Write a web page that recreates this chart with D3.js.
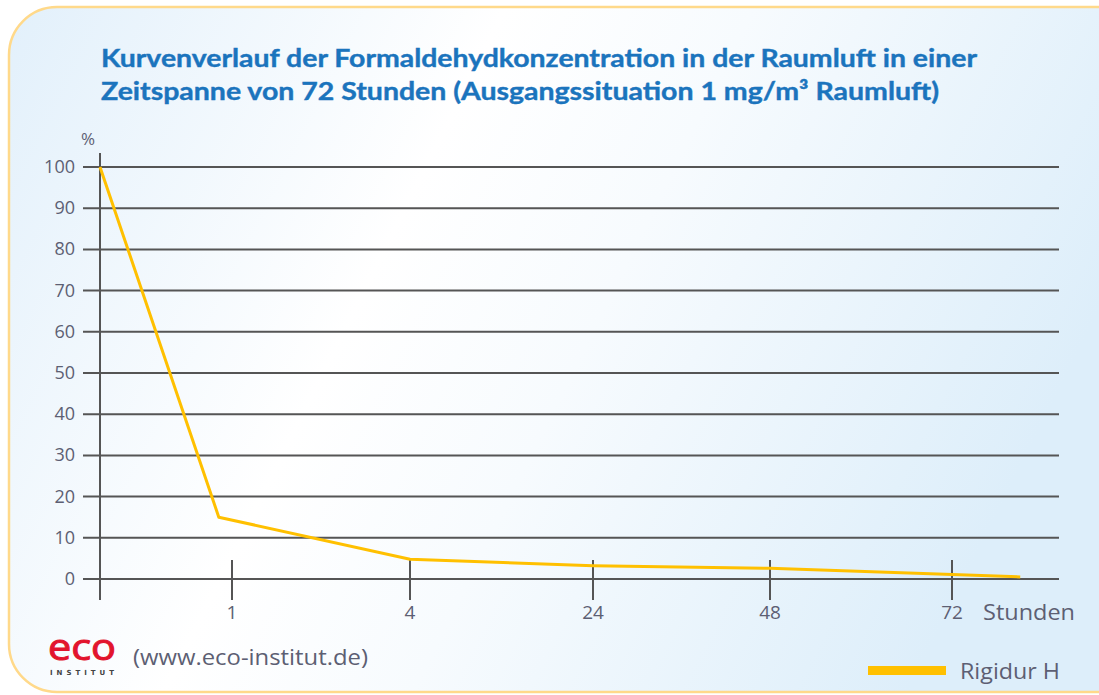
<!DOCTYPE html>
<html><head><meta charset="utf-8">
<script src="https://cdn.jsdelivr.net/npm/d3@7"></script>
<style>body{margin:0;background:#fff;}svg{display:block;}</style>
</head><body>
<script>
const titleLines = ["Kurvenverlauf der Formaldehydkonzentration in der Raumluft in einer",
                    "Zeitspanne von 72 Stunden (Ausgangssituation 1 mg/m³ Raumluft)"];
const hourTicks = [1, 4, 24, 48, 72];
const hourTickLabels = ["1", "4", "24", "48", "72"];
const yTicks = [0, 10, 20, 30, 40, 50, 60, 70, 80, 90, 100];
const seriesName = "Rigidur H";
const seriesHours = [0, 0.9, 4, 24, 48, 81];
const seriesValues = [100, 15, 4.8, 3.2, 2.6, 0.5];

const W = 1099, H = 695;
const svg = d3.select("body").append("svg").attr("width", W).attr("height", H);
const defs = svg.append("defs");
const g1 = defs.append("linearGradient").attr("id","bg").attr("x1","0").attr("y1","0").attr("x2","1").attr("y2","0.3");
g1.append("stop").attr("offset","0").attr("stop-color","#e2f0fb");
g1.append("stop").attr("offset","0.4").attr("stop-color","#ffffff");
g1.append("stop").attr("offset","0.6").attr("stop-color","#f7fbfe");
g1.append("stop").attr("offset","1").attr("stop-color","#ddeefa");

svg.append("rect").attr("x",9).attr("y",7).attr("width",W+40).attr("height",685)
  .attr("rx",48).attr("ry",48).attr("fill","url(#bg)").attr("stroke","#ffd98a").attr("stroke-width",2.5);

// title
const title = svg.append("g");
titleLines.forEach((t,i)=>{
  title.append("text").attr("x",101).attr("y",67+i*33)
    .attr("font-family","Lato, 'Open Sans', sans-serif").attr("font-weight","bold")
    .attr("font-size",24).attr("fill","#1b74bd")
    .attr("stroke","#1b74bd").attr("stroke-width",0.4)
    .attr("textLength", i===0?876:838).attr("lengthAdjust","spacingAndGlyphs")
    .text(t);
});

// scales
const y = d3.scaleLinear().domain([0,100]).range([579,167]);
const x = d3.scaleLinear().domain([0,1,4,24,48,72]).range([100,232,410,593,770,952]);
const xEnd = 1059;
const labelColor = "#5d5f73";
const font = "'Open Sans', 'Noto Sans', sans-serif";

// grid lines
svg.append("g").selectAll("line").data(yTicks).join("line")
  .attr("x1",83).attr("x2",xEnd).attr("y1",d=>y(d)).attr("y2",d=>y(d))
  .attr("stroke","#555").attr("stroke-width",2);
svg.append("g").selectAll("text").data(yTicks).join("text")
  .attr("x",75).attr("y",d=>y(d)+6).attr("text-anchor","end")
  .attr("font-family",font).attr("font-size",18).attr("fill",labelColor)
  .text(d=>d);
svg.append("text").attr("x",81).attr("y",145).attr("font-family",font).attr("font-size",17)
  .attr("fill",labelColor).text("%");

// y axis line
svg.append("line").attr("x1",x(0)).attr("x2",x(0)).attr("y1",153).attr("y2",600)
  .attr("stroke","#555").attr("stroke-width",2);

// x ticks
svg.append("g").selectAll("line").data(hourTicks).join("line")
  .attr("x1",d=>x(d)).attr("x2",d=>x(d)).attr("y1",560).attr("y2",600)
  .attr("stroke","#555").attr("stroke-width",2);
svg.append("g").selectAll("text").data(hourTicks).join("text")
  .attr("x",d=>x(d)).attr("y",619).attr("text-anchor","middle")
  .attr("font-family",font).attr("font-size",19).attr("fill",labelColor)
  .text((d,i)=>hourTickLabels[i]);
svg.append("text").attr("x",983).attr("y",620).attr("font-family",font).attr("font-size",21)
  .attr("fill",labelColor).attr("textLength",92).attr("lengthAdjust","spacingAndGlyphs").text("Stunden");

// series line
const pts = seriesHours.map((h,i)=>[h, seriesValues[i]]);
svg.append("path").datum(pts)
  .attr("d", d3.line().x(d=>x(d[0])).y(d=>y(d[1])))
  .attr("fill","none").attr("stroke","#ffc000").attr("stroke-width",3)
  .attr("stroke-linejoin","round");

// logo
svg.append("text").attr("x",48).attr("y",660).attr("font-family","'Open Sans', sans-serif")
  .attr("font-size",36).attr("fill","#e2142d").attr("stroke","#e2142d").attr("stroke-width",1)
  .attr("textLength",68).attr("lengthAdjust","spacingAndGlyphs").text("eco");
svg.append("text").attr("x",50).attr("y",675).attr("font-family","'DejaVu Sans', sans-serif")
  .attr("font-weight","bold").attr("font-size",7).attr("fill","#444")
  .attr("textLength",64).attr("lengthAdjust","spacing").text("INSTITUT");
svg.append("text").attr("x",133).attr("y",665).attr("font-family",font).attr("font-size",21)
  .attr("fill",labelColor).attr("textLength",235).attr("lengthAdjust","spacingAndGlyphs")
  .text("(www.eco-institut.de)");

// legend
svg.append("rect").attr("x",868).attr("y",666).attr("width",78).attr("height",9).attr("fill","#ffc000");
svg.append("text").attr("x",960).attr("y",679).attr("font-family",font).attr("font-size",21)
  .attr("fill",labelColor).attr("textLength",100).attr("lengthAdjust","spacingAndGlyphs").text(seriesName);
</script>
</body></html>
